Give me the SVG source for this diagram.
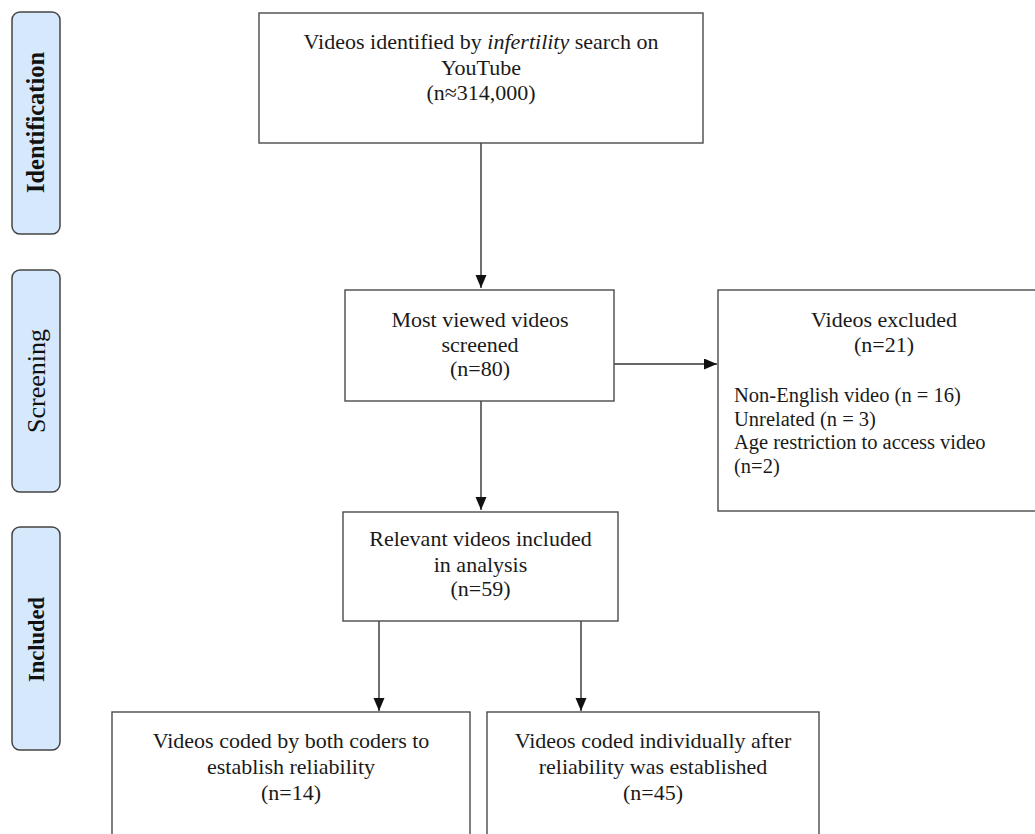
<svg xmlns="http://www.w3.org/2000/svg" width="1035" height="834" viewBox="0 0 1035 834">
<style>
.box{fill:#fff;stroke:#4a4a4a;stroke-width:1.4}
.side{fill:#d5e8fc;stroke:#444;stroke-width:1.5}
.t{font-family:"Liberation Serif","Times New Roman",serif;font-size:22px;fill:#1a1a1a;text-anchor:middle}
.l{font-family:"Liberation Serif","Times New Roman",serif;font-size:20.5px;fill:#1a1a1a}
.s{font-family:"Liberation Serif","Times New Roman",serif;fill:#111;text-anchor:middle;font-weight:bold}
.c{stroke:#333;stroke-width:1.4;fill:none;marker-end:url(#ah)}
</style>
<defs>
<marker id="ah" markerUnits="userSpaceOnUse" markerWidth="13" markerHeight="12" refX="13" refY="5.5" orient="auto"><path d="M0,0 L13,5.5 L0,11 Z" fill="#111"/></marker>
</defs>
<rect width="1035" height="834" fill="#fff"/>
<g id="side-identification"><rect class="side" x="12" y="12" width="48" height="222" rx="8"/><text class="s" font-size="24.4" transform="translate(44,122.5) rotate(-90)">Identification</text></g>
<g id="side-screening"><rect class="side" x="12" y="270" width="48" height="222" rx="8"/><text class="s" font-size="26" style="font-weight:normal" transform="translate(45,381) rotate(-90)">Screening</text></g>
<g id="side-included"><rect class="side" x="12" y="527" width="48" height="223" rx="8"/><text class="s" font-size="22.5" transform="translate(44,639.5) rotate(-90)">Included</text></g>
<g id="connectors">
<line class="c" x1="481" y1="143" x2="481" y2="288"/>
<line class="c" x1="614" y1="364" x2="717" y2="364"/>
<line class="c" x1="481" y1="401" x2="481" y2="510"/>
<line class="c" x1="379" y1="621" x2="379" y2="711"/>
<line class="c" x1="581" y1="621" x2="581" y2="711"/>
</g>
<g id="n-identified"><rect class="box" x="259" y="13" width="444" height="130"/>
<text class="t" x="481" y="49">Videos identified by <tspan font-style="italic">infertility</tspan> search on</text>
<text class="t" x="481" y="75">YouTube</text>
<text class="t" x="481" y="100">(n≈314,000)</text></g>
<g id="n-screened"><rect class="box" x="345" y="290" width="269" height="111"/>
<text class="t" x="480" y="327">Most viewed videos</text>
<text class="t" x="480" y="352">screened</text>
<text class="t" x="480" y="376">(n=80)</text></g>
<g id="n-excluded"><rect class="box" x="718" y="290" width="340" height="221"/>
<text class="t" x="884" y="327">Videos excluded</text>
<text class="t" x="884" y="352">(n=21)</text>
<text class="l" x="734" y="402">Non-English video (n = 16)</text>
<text class="l" x="734" y="425.5">Unrelated (n = 3)</text>
<text class="l" x="734" y="449">Age restriction to access video</text>
<text class="l" x="734" y="472.5">(n=2)</text></g>
<g id="n-included"><rect class="box" x="343" y="512" width="275" height="109"/>
<text class="t" x="480.5" y="546">Relevant videos included</text>
<text class="t" x="480.5" y="572">in analysis</text>
<text class="t" x="480.5" y="596">(n=59)</text></g>
<g id="n-both"><rect class="box" x="112" y="712" width="358" height="140"/>
<text class="t" x="291" y="748">Videos coded by both coders to</text>
<text class="t" x="291" y="774">establish reliability</text>
<text class="t" x="291" y="800">(n=14)</text></g>
<g id="n-individual"><rect class="box" x="487" y="712" width="332" height="140"/>
<text class="t" x="653" y="748">Videos coded individually after</text>
<text class="t" x="653" y="774">reliability was established</text>
<text class="t" x="653" y="800">(n=45)</text></g>
</svg>
